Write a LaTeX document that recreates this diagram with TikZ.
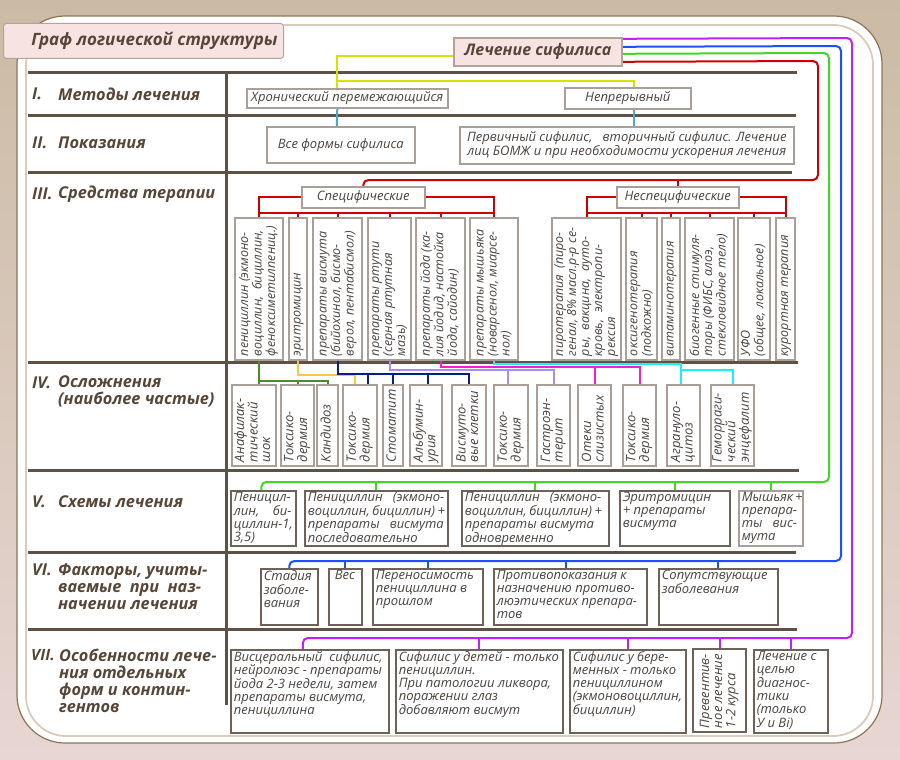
\documentclass[tikz,border=0pt]{standalone}
\usepackage{fontspec}
\setmainfont{Open Sans}
\usetikzlibrary{calc}
\pgfdeclarelayer{bg}
\pgfdeclarelayer{cn}
\pgfsetlayers{bg,cn,main}
\definecolor{bgtop}{HTML}{CBBBA4}
\definecolor{bgbot}{HTML}{E7D6D3}
\definecolor{panelb}{HTML}{8C7455}
\definecolor{innerl}{HTML}{D8CBBA}
\definecolor{tablec}{HTML}{5E5146}
\definecolor{labc}{HTML}{564638}
\definecolor{boxtxt}{HTML}{4A4440}
\definecolor{lboxc}{HTML}{A8A098}
\definecolor{dboxc}{HTML}{6E6258}
\definecolor{pinkf}{HTML}{F7E3E2}
\definecolor{pinkb}{HTML}{B5A39B}
\definecolor{ygc}{HTML}{D2E400}
\definecolor{cbc}{HTML}{4EA6C9}
\definecolor{redc}{HTML}{CC0000}
\definecolor{olc}{HTML}{4E8C2A}
\definecolor{yoc}{HTML}{F8C840}
\definecolor{nvc}{HTML}{0A1A90}
\definecolor{lvc}{HTML}{A98BF5}
\definecolor{mgc}{HTML}{FF1ACD}
\definecolor{cyc}{HTML}{1AF0F5}
\definecolor{grc}{HTML}{44D422}
\definecolor{blc}{HTML}{1E4EFF}
\definecolor{vic}{HTML}{C21FFF}
% text box, text at top-left, lines never wrap
\newcommand\boxT[7]{\node[#6, anchor=north west, inner sep=0pt, minimum width={#4-#2}, minimum height={#5-#3}] (#1) at (#2,#3) {\parbox[c][\dimexpr #5pt-#3pt-3pt\relax][t]{\dimexpr #4pt-#2pt-6pt\relax}{\begin{tabular}[t]{@{}l@{}}#7\end{tabular}}};}
% rotated box, text reads bottom to top
\newcommand\boxR[7]{\node[#6, rotate=90, inner sep=0pt, minimum width={#5-#3}, minimum height={#4-#2}] (#1) at ({(#2+#4)/2},{(#3+#5)/2}) {\parbox[c][\dimexpr #4pt-#2pt-2pt\relax][c]{\dimexpr #5pt-#3pt-8pt\relax}{\begin{tabular}{@{}l@{}}#7\end{tabular}}};}
% centred box
\newcommand\boxC[7]{\node[#6, anchor=north west, inner sep=0pt, align=center, minimum width={#4-#2}, minimum height={#5-#3}] (#1) at (#2,#3) {#7};}
\begin{document}
\begin{tikzpicture}[x=1pt,y=-1pt,
  tline/.style={line width=3pt, draw=tablec},
  lbox/.style={draw=lboxc, line width=1.6pt, fill=white, font=\itshape\fontsize{13}{14}\selectfont, text=boxtxt},
  rbox/.style={draw=lboxc, line width=1.6pt, fill=white, font=\itshape\fontsize{12.5}{13}\selectfont, text=boxtxt},
  cbox/.style={draw=lboxc, line width=1.6pt, fill=white, font=\itshape\fontsize{13}{12.5}\selectfont, text=boxtxt},
  dbox/.style={draw=dboxc, line width=1.6pt, fill=white, font=\itshape\fontsize{13}{13}\selectfont, text=boxtxt},
  lab/.style={font=\bfseries\itshape\fontsize{16.3}{17}\selectfont, text=labc, anchor=west, inner sep=0pt, align=left},
  conn/.style={line width=2pt},
]
\useasboundingbox (0,0) rectangle (900,760);
\begin{pgfonlayer}{bg}
\shade[top color=bgtop, bottom color=bgbot] (0,0) rectangle (900,760);
\draw[draw=panelb, fill=white, line width=1.2pt, rounded corners=48pt] (17,16) rectangle (882,743);
\draw[draw=innerl, line width=1.8pt, rounded corners=40pt] (26,25) rectangle (873,736);
\draw[tline] (28,73) -- (797,73);
\draw[tline] (28,115) -- (796,115);
\draw[tline] (28,172) -- (792,172);
\draw[tline] (28,362) -- (798,362);
\draw[tline] (28,470) -- (799,470);
\draw[tline] (28,552) -- (796,552);
\draw[tline] (28,629) -- (797,629);
\draw[tline] (226,73) -- (226,705);
\end{pgfonlayer}
% title
\node[draw=pinkb, fill=pinkf, line width=1pt, rounded corners=3pt, anchor=north west, minimum width=280, minimum height=35, inner sep=0pt,
  font=\bfseries\itshape\fontsize{17}{20}\selectfont, text=labc] (title) at (3,23) {\hspace*{22pt}Граф логической структуры};
\node[draw=pinkb, fill=pinkf, line width=1.6pt, anchor=north west, minimum width=168, minimum height=28, inner sep=0pt,
  font=\bfseries\itshape\fontsize{16}{19}\selectfont, text=labc] (lech) at (453,37) {Лечение сифилиса};
% row labels
\node[lab] (n1) at (32,94) {I.};
\node[lab] (l1) at (58,94) {Методы лечения};
\node[lab] (n2) at (32,143) {II.};
\node[lab] (l2) at (58,143) {Показания};
\node[lab] (n3) at (32,194) {III.};
\node[lab] (l3) at (58,194) {Средства терапии};
\node[lab] (n4) at (32,383) {IV.};
\node[lab] (l4) at (58,391.5) {Осложнения\\(наиболее частые)};
\node[lab] (n5) at (32,502) {V.};
\node[lab] (l5) at (58,502) {Схемы лечения};
\node[lab] (n6) at (32,570) {VI.};
\node[lab] (l6) at (58,587) {Факторы, учиты-\\ваемые \ при \ наз-\\начении лечения};
\node[lab, font=\bfseries\itshape\fontsize{15.5}{17}\selectfont] (n7) at (31,655) {VII.};
\node[lab] (l7) at (59,680.5) {Особенности лече-\\ния отдельных\\форм и контин-\\гентов};
% row I, II
\boxC{chron}{246}{88}{447}{107}{lbox}{Хронический перемежающийся}
\boxC{nep}{564}{87}{690}{108}{lbox}{Непрерывный}
\boxC{all}{266}{126}{414}{162}{lbox}{Все формы сифилиса}
\boxC{prim}{459}{126}{793}{163}{lbox}{Первичный сифилис, \ \ вторичный сифилис. Лечение\\лиц БОМЖ и при необходимости ускорения лечения}
\boxC{spec}{301}{186}{424}{207}{lbox}{Специфические}
\boxC{nspec}{616}{186}{738}{207}{lbox}{Неспецифические}
% row III
\boxR{p1}{235}{218}{283}{360}{rbox}{пенициллин (экмоно-\\воциллин, \ бициллин,\\феноксиметилпениц.)}
\boxR{p2}{289}{218}{307}{360}{rbox}{эритромицин}
\boxR{p3}{313}{218}{362}{360}{rbox}{препараты висмута\\(бийохинол, бисмо-\\верол, пентабисмол)}
\boxR{p4}{368}{218}{411}{360}{rbox}{препараты ртути\\(серная ртутная\\мазь)}
\boxR{p5}{416}{218}{465}{360}{rbox}{препараты йода (ка-\\лия йодид, настойка\\йода, сайодин)}
\boxR{p6}{470}{218}{518}{360}{rbox}{препараты мышьяка\\(новарсенол, миарсе-\\нол)}
\boxR{q1}{552}{218}{621}{360}{rbox}{пиротерапия \ (пиро-\\генал, 8\% масл.р-р се-\\ры, \ вакцина, \ ауто-\\кровь, \ электропи-\\рексия}
\boxR{q2}{626}{218}{657}{360}{rbox}{оксигенотерапия\\(подкожно)}
\boxR{q3}{662}{218}{680}{360}{rbox}{витаминотерапия}
\boxR{q4}{685}{218}{734}{360}{rbox}{биогенные стимуля-\\торы (ФИБС, алоэ,\\стекловидное тело)}
\boxR{q5}{738}{218}{770}{360}{rbox}{УФО\\(общее, локальное)}
\boxR{q6}{776}{218}{795}{360}{rbox}{курортная терапия}
% row IV
\boxR{c1}{232}{385}{276}{466}{cbox}{Анафилак-\\тический\\шок}
\boxR{c2}{281}{385}{314}{466}{cbox}{Токсико-\\дермия}
\boxR{c3}{317}{385}{338}{466}{cbox}{Кандидоз}
\boxR{c4}{343}{385}{377}{466}{cbox}{Токсико-\\дермия}
\boxR{c5}{383}{385}{403}{466}{cbox}{Стоматит}
\boxR{c6}{410}{385}{442}{466}{cbox}{Альбумин-\\урия}
\boxR{c7}{452}{385}{486}{466}{cbox}{Висмуто-\\вые клетки}
\boxR{c8}{494}{385}{528}{466}{cbox}{Токсико-\\дермия}
\boxR{c9}{537}{385}{570}{466}{cbox}{Гастроэн-\\терит}
\boxR{c10}{578}{385}{611}{466}{cbox}{Отеки\\слизистых}
\boxR{c11}{623}{385}{656}{466}{cbox}{Токсико-\\дермия}
\boxR{c12}{667}{385}{700}{466}{cbox}{Агрануло-\\цитоз}
\boxR{c13}{711}{385}{754}{466}{cbox}{Геморраги-\\ческий\\энцефалит}
% row V
\boxT{v1}{230}{490}{295}{545}{dbox}{Пеницил-\\лин, \ \ \ би-\\циллин-1,\\3,5)}
\boxT{v2}{304}{490}{447}{545}{dbox}{Пенициллин \ \ (экмоно-\\воциллин,\hspace{2.5pt}бициллин)\hspace{2.5pt}+\\препараты \ \ висмута\\последовательно}
\boxT{v3}{461}{490}{608}{545}{dbox}{Пенициллин \ \ (экмоно-\\воциллин,\hspace{2.5pt}бициллин)\hspace{2.5pt}+\\препараты висмута\\одновременно}
\boxT{v4}{619}{490}{729}{545}{dbox}{Эритромицин\\+ препараты\\висмута}
\boxT{v5}{738}{490}{802}{545}{dbox, draw=lboxc}{Мышьяк\hspace{2pt}+\\препара-\\ты \ \ вис-\\мута}
% row VI
\boxT{w1}{260}{568}{317}{624}{dbox}{Стадия\\заболе-\\вания}
\boxT{w2}{328}{568}{361}{624}{dbox}{\hspace*{3pt}Вес}
\boxT{w3}{372}{568}{482}{624}{dbox}{Переносимость\\пенициллина в\\прошлом}
\boxT{w4}{493}{568}{646}{624}{dbox}{Противопоказания к\\назначению противо-\\люэтических препара-\\тов}
\boxT{w5}{658}{568}{777}{624}{dbox}{Сопутствующие\\заболевания}
% row VII
\boxT{s1}{230}{649}{388}{732}{dbox}{Висцеральный\hspace{7pt}сифилис,\\нейролюэс - препараты\\йода 2-3 недели, затем\\препараты висмута,\\пенициллина}
\boxT{s2}{395}{649}{562}{732}{dbox}{Сифилис у детей - только\\пенициллин.\\При патологии ликвора,\\поражении глаз\\добавляют висмут}
\boxT{s3}{569}{649}{685}{732}{dbox}{Сифилис у бере-\\менных - только\\пенициллином\\(экмоновоциллин,\\бициллин)}
\boxR{s4}{693}{649}{746}{732}{dbox}{Превентив-\\ное лечение\\1-2 курса}
\boxT{s5}{753}{649}{827}{732}{dbox}{Лечение с\\целью\\диагнос-\\тики\\(только\\У и Bi)}
% connectors
\begin{pgfonlayer}{cn}
\draw[conn, draw=ygc] ($(lech.west)+(0,4)$) -| ($(chron.north)+(-10,0)$);
\draw[conn, draw=ygc] ($(chron.north)+(-10,-7)$) -| ($(nep.north)+(6,0)$);
\draw[conn, draw=cbc] ($(chron.south)+(-10,0)$) -- ($(all.north)+(-4,0)$);
\draw[conn, draw=cbc] ($(nep.south)+(6,0)$) -- ($(prim.north)+(7,0)$);
% red
\draw[conn, draw=redc, rounded corners=5pt] ($(lech.east)+(0,10)$) -- (818,61) -- (818,180) -| (spec.north);
\draw[conn, draw=redc] (nspec.north |- 0,180) -- (nspec.north);
\draw[conn, draw=redc] (spec.west) -| (p1.east);
\draw[conn, draw=redc] (spec.east) -| (p6.east);
\draw[conn, draw=redc] (p1.east |- 0,213) -- (p6.east |- 0,213);
\foreach \n in {p2,p3,p4,p5} \draw[conn, draw=redc] (\n.east |- 0,213) -- (\n.east);
\draw[conn, draw=redc] (nspec.west) -| (q1.east);
\draw[conn, draw=redc] (nspec.east) -| (q6.east);
\draw[conn, draw=redc] (q1.east |- 0,213) -- (q6.east |- 0,213);
\foreach \n in {q2,q3,q4,q5} \draw[conn, draw=redc] (\n.east |- 0,213) -- (\n.east);
% complications
\draw[conn, draw=olc] (p1.west) -- (p1.west |- c1.east);
\draw[conn, draw=olc] (p1.west |- 0,381) -| (c3.east);
\draw[conn, draw=olc] (c2.east |- 0,381) -- (c2.east);
\draw[conn, draw=yoc] (p2.west) |- ($(c4.east)+(-5,-9)$) -- ($(c4.east)+(-5,0)$);
\draw[conn, draw=nvc] (p3.west) |- (c7.east |- 0,374) -- (c7.east);
\draw[conn, draw=nvc] ($(c4.east)+(8,-11)$) -- ($(c4.east)+(8,0)$);
\draw[conn, draw=nvc] (c5.east |- 0,374) -- (c5.east);
\draw[conn, draw=nvc] ($(c6.east)+(2,-11)$) -- ($(c6.east)+(2,0)$);
\draw[conn, draw=lvc] (p4.west) |- (c9.east |- 0,370) -- (c9.east);
\draw[conn, draw=lvc] ($(c8.east)+(-3,-15)$) -- ($(c8.east)+(-3,0)$);
\draw[conn, draw=mgc] (p5.west) |- (c11.east |- 0,367) -- (c11.east);
\draw[conn, draw=mgc] (c10.east |- 0,367) -- (c10.east);
\draw[conn, draw=cyc] (p6.west) |- ($(c12.east)+(-3,-20)$) -- ($(c12.east)+(-3,0)$);
\draw[conn, draw=cyc] ($(c12.east)+(-3,-14)$) -| (c13.east);
% schemes
\draw[conn, draw=grc, rounded corners=5pt] ($(lech.east)+(0,2)$) -- (829,53) -- (829,482) -| ($(v1.north)+(-2,0)$);
\foreach \n in {v2,v3,v4,v5} \draw[conn, draw=grc] (\n.north |- 0,482) -- (\n.north);
% factors
\draw[conn, draw=blc, rounded corners=5pt] ($(lech.east)+(0,-5)$) -- (841,46) -- (841,561) -| (w1.north);
\foreach \n in {w2,w3,w5} \draw[conn, draw=blc] (\n.north |- 0,561) -- (\n.north);
\draw[conn, draw=blc] ($(w4.north)+(-4,-7)$) -- ($(w4.north)+(-4,0)$);
% special forms
\draw[conn, draw=vic, rounded corners=5pt] ($(lech.east)+(0,-13)$) -- (852,38) -- (852,638) -| ($(s1.north)+(-7,0)$);
\foreach \n in {s2,s3,s5} \draw[conn, draw=vic] (\n.north |- 0,638) -- (\n.north);
\draw[conn, draw=vic] (s4.east |- 0,638) -- (s4.east);
\end{pgfonlayer}
\end{tikzpicture}
\end{document}
